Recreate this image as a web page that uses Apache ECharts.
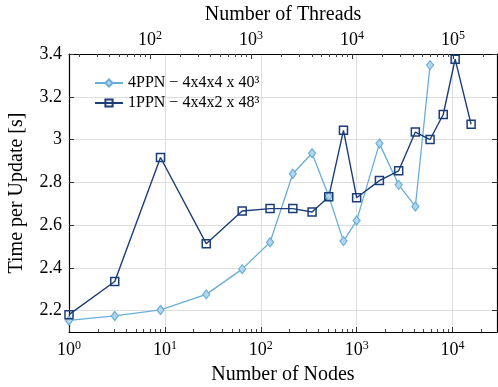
<!DOCTYPE html>
<html>
<head>
<meta charset="utf-8">
<script src="https://cdn.jsdelivr.net/npm/echarts@6/dist/echarts.min.js"></script>
<style>html,body{margin:0;padding:0;background:#fff}#c{width:498px;height:387px}</style>
</head>
<body>
<div id="c"></div>
<script>
// ---- data ----
const nodes4PPN = [1, 3, 9, 27, 64, 125, 216, 343, 512, 729, 1000, 1728, 2744, 4096, 5832];
const time4PPN  = [2.154, 2.175, 2.203, 2.276, 2.394, 2.520, 2.840, 2.936, 2.735, 2.525, 2.621, 2.981, 2.788, 2.687, 3.348];
const nodes1PPN = [1, 3, 9, 27, 64, 125, 216, 343, 512, 729, 1000, 1728, 2744, 4096, 5832, 8000, 10648, 15625];
const time1PPN  = [2.181, 2.336, 2.916, 2.513, 2.666, 2.677, 2.677, 2.661, 2.732, 3.043, 2.728, 2.808, 2.854, 3.035, 3.000, 3.117, 3.376, 3.071];
const name4PPN = '4PPN \u2212 4x4x4 x 40\u00B3';
const name1PPN = '1PPN \u2212 4x4x2 x 48\u00B3';
const nodeTicks = [1, 10, 100, 1000, 10000];
const threadTicks = [100, 1000, 10000, 100000];
const yTicks = [2.2, 2.4, 2.6, 2.8, 3.0, 3.2, 3.4];
const nodeRange = [1, 29100];
const threadRange = [15.8, 273000];
const yRange = [2.1, 3.4];

function minorTicks(lo, hi) {
  const out = [];
  for (let d = -1; d <= 6; d++) for (let m = 2; m <= 9; m++) {
    const v = m * Math.pow(10, d);
    if (v > lo && v < hi) out.push(v);
  }
  return out;
}

const FONT = 'Liberation Serif';
const pow10 = v => '{b|10}{s|' + Math.round(Math.log10(v)) + '}';
const richLbl = {
  b: {fontSize: 18, fontFamily: FONT, color: '#000'},
  s: {fontSize: 12, fontFamily: FONT, color: '#000', padding: [0, 0, 9, 0]}
};
const nameStyle = {fontSize: 20, fontFamily: FONT, color: '#000'};

function logAxis(range, pos, majors, opts) {
  return Object.assign({
    type: 'log', logBase: 10, min: range[0], max: range[1], position: pos,
    axisLine: {show: true, onZero: false, lineStyle: {color: '#000', width: 1.2}},
    axisTick: {show: true, inside: true, length: 5, customValues: majors, lineStyle: {color: '#333', width: 1}},
    axisLabel: {show: true, customValues: majors, formatter: pow10, rich: richLbl, margin: pos === 'top' ? 3 : 8},
    splitLine: {show: false}, minorTick: {show: false}
  }, opts || {});
}
function minorAxis(range, pos) {
  return {
    type: 'log', logBase: 10, min: range[0], max: range[1], position: pos,
    axisLine: {show: false},
    axisTick: {show: true, inside: true, length: 3, customValues: minorTicks(range[0], range[1]), lineStyle: {color: '#444', width: 1}},
    axisLabel: {show: false}, splitLine: {show: false}
  };
}

const chart = echarts.init(document.getElementById('c'), null, {renderer: 'canvas'});
chart.setOption({
  animation: false,
  backgroundColor: '#fff',
  grid: {left: 69, right: 1, top: 54, bottom: 55, containLabel: false, outerBoundsMode: 'none'},
  xAxis: [
    logAxis(nodeRange, 'bottom', nodeTicks, {
      name: 'Number of Nodes', nameLocation: 'middle', nameGap: 32, nameTextStyle: nameStyle,
      splitLine: {show: true, lineStyle: {color: '#dddddd', width: 1}}
    }),
    minorAxis(nodeRange, 'bottom'),
    logAxis(threadRange, 'top', threadTicks, {
      name: 'Number of Threads', nameLocation: 'middle', nameGap: 28, nameTextStyle: nameStyle
    }),
    minorAxis(threadRange, 'top')
  ],
  yAxis: [
    {
      type: 'value', min: yRange[0], max: yRange[1], position: 'left',
      axisLine: {show: true, onZero: false, lineStyle: {color: '#000', width: 1.2}},
      axisTick: {show: true, inside: true, length: 5, customValues: yTicks, lineStyle: {color: '#333'}},
      axisLabel: {customValues: yTicks, formatter: v => String(+v.toFixed(1)), fontSize: 18, fontFamily: FONT, color: '#000', margin: 7},
      splitLine: {show: true, lineStyle: {color: '#dddddd', width: 1}},
      name: 'Time per Update [s]', nameLocation: 'middle', nameGap: 42, nameTextStyle: nameStyle
    },
    {
      type: 'value', min: yRange[0], max: yRange[1], position: 'right',
      axisLine: {show: true, onZero: false, lineStyle: {color: '#000', width: 1.2}},
      axisTick: {show: true, inside: true, length: 5, customValues: yTicks, lineStyle: {color: '#333'}},
      axisLabel: {show: false}, splitLine: {show: false}
    }
  ],
  legend: {
    left: 89, top: 70, orient: 'vertical', itemWidth: 28, itemHeight: 9, itemGap: 4,
    textStyle: {fontSize: 16, fontFamily: FONT, color: '#000'},
    data: [name4PPN, name1PPN]
  },
  series: [
    {
      name: name4PPN, type: 'line', xAxisIndex: 0, yAxisIndex: 0,
      data: nodes4PPN.map((n, i) => [n, time4PPN[i]]),
      symbol: 'diamond', symbolSize: [7, 9],
      lineStyle: {color: '#6aaed6', width: 1.3},
      itemStyle: {color: '#b3d6ee', borderColor: '#6aaed6', borderWidth: 1.2}
    },
    {
      name: name1PPN, type: 'line', xAxisIndex: 0, yAxisIndex: 0,
      data: nodes1PPN.map((n, i) => [n, time1PPN[i]]),
      symbol: 'rect', symbolSize: 8,
      lineStyle: {color: '#1b3d78', width: 1.4},
      itemStyle: {color: 'rgba(255,255,255,0)', borderColor: '#1b3d78', borderWidth: 1.5}
    }
  ]
});
</script>
</body>
</html>
